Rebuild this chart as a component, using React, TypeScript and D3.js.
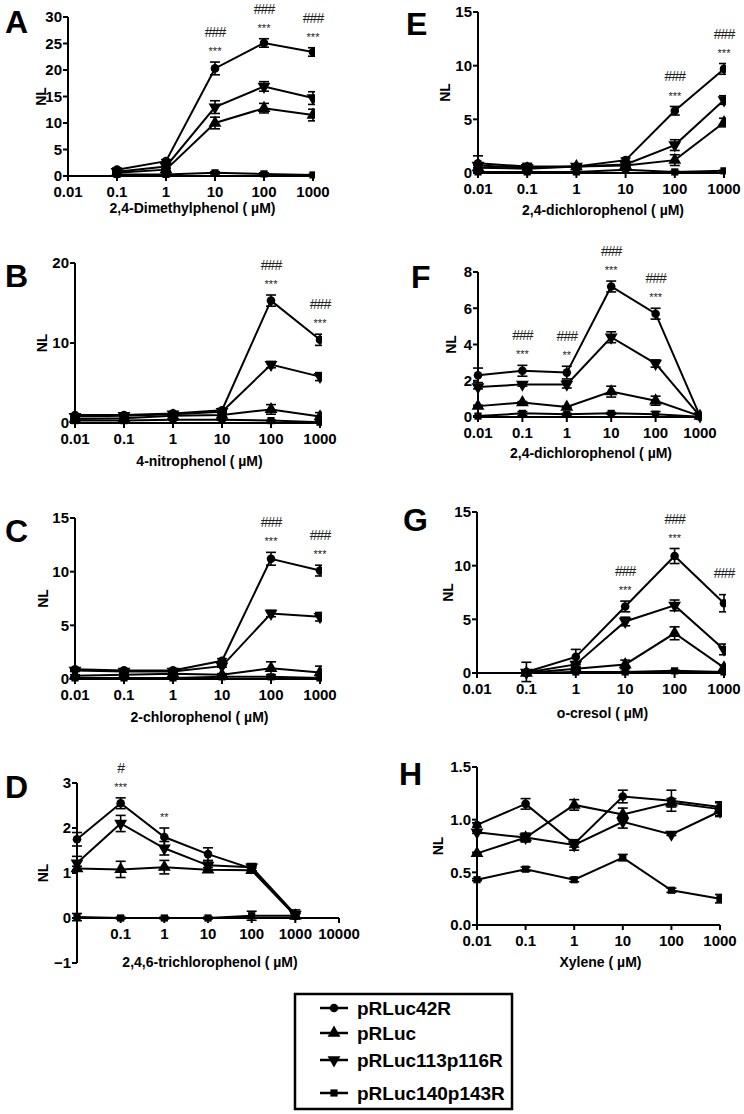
import React from "react";
import * as d3 from "d3";

// series, in legend order
const SERIES = ["pRLuc42R", "pRLuc", "pRLuc113p116R", "pRLuc140p143R"];

const CONC6 = [0.01, 0.1, 1, 10, 100, 1000];
const CONC5 = [0.1, 1, 10, 100, 1000];

// A: 2,4-Dimethylphenol
const A_MEAN = [
  [1.2, 2.8, 20.3, 25.1, 23.4],
  [0.6, 1.2, 10.0, 12.8, 11.5],
  [0.8, 1.8, 13.0, 16.9, 14.7],
  [0.3, 0.3, 0.6, 0.4, 0.2],
];
const A_ERR = [
  [0.3, 0.3, 1.2, 0.8, 0.8],
  [0.2, 0.2, 1.1, 0.9, 1.1],
  [0.2, 0.3, 1.2, 0.9, 1.2],
  [0.1, 0.1, 0.2, 0.2, 0.1],
];
const A_SIG = [[10, "###", "***"], [100, "###", "***"], [1000, "###", "***"]];

// B: 4-nitrophenol
const B_MEAN = [
  [1.0, 1.0, 1.2, 1.6, 15.3, 10.4],
  [0.5, 0.6, 0.9, 1.0, 1.7, 0.8],
  [0.8, 0.9, 1.1, 1.4, 7.3, 5.8],
  [0.3, 0.3, 0.4, 0.4, 0.3, 0.1],
];
const B_ERR = [
  [0.1, 0.1, 0.1, 0.2, 0.7, 0.7],
  [0.1, 0.1, 0.1, 0.2, 0.6, 0.5],
  [0.1, 0.1, 0.1, 0.1, 0.4, 0.5],
  [0.05, 0.05, 0.05, 0.05, 0.05, 0.05],
];
const B_SIG = [[100, "###", "***"], [1000, "###", "***"]];

// C: 2-chlorophenol
const C_MEAN = [
  [0.9, 0.8, 0.8, 1.7, 11.2, 10.1],
  [0.3, 0.4, 0.5, 0.4, 1.0, 0.6],
  [0.8, 0.7, 0.7, 1.2, 6.1, 5.8],
  [0.1, 0.1, 0.1, 0.2, 0.2, 0.1],
];
const C_ERR = [
  [0.1, 0.1, 0.1, 0.2, 0.6, 0.5],
  [0.1, 0.1, 0.1, 0.1, 0.6, 0.6],
  [0.1, 0.1, 0.1, 0.1, 0.3, 0.4],
  [0.05, 0.05, 0.05, 0.05, 0.05, 0.05],
];
const C_SIG = [[100, "###", "***"], [1000, "###", "***"]];

// D: 2,4,6-trichlorophenol
const D_MEAN = [
  [1.75, 2.55, 1.8, 1.42, 1.1, 0.05],
  [1.1, 1.08, 1.13, 1.07, 1.06, 0.05],
  [1.22, 2.1, 1.55, 1.17, 1.13, 0.08],
  [0.02, 0.0, 0.0, 0.0, 0.05, 0.05],
];
const D_ERR = [
  [0.15, 0.12, 0.2, 0.14, 0.05, 0.05],
  [0.05, 0.18, 0.15, 0.05, 0.05, 0.05],
  [0.15, 0.18, 0.15, 0.1, 0.08, 0.1],
  [0.08, 0.02, 0.02, 0.02, 0.1, 0.05],
];
const D_SIG = [[0.1, "#", "***"], [1, "", "**"]];
const D_TICKS = [0.01, 0.1, 1, 10, 100, 1000, 10000];
const D_TICK_LABELS = ["", "0.1", "1", "10", "100", "1000", "10000"];

// E: 2,4-dichlorophenol
const E_MEAN = [
  [0.9, 0.6, 0.6, 1.2, 5.8, 9.7],
  [0.5, 0.4, 0.6, 0.7, 1.2, 4.7],
  [0.7, 0.5, 0.6, 0.8, 2.6, 6.8],
  [0.1, 0.1, 0.1, 0.3, 0.1, 0.2],
];
const E_ERR = [
  [0.7, 0.3, 0.2, 0.2, 0.4, 0.5],
  [0.2, 0.2, 0.1, 0.2, 0.5, 0.4],
  [0.2, 0.2, 0.1, 0.2, 0.5, 0.4],
  [0.05, 0.05, 0.05, 0.05, 0.05, 0.05],
];
const E_SIG = [[100, "###", "***"], [1000, "###", "***"]];

// F: 2,4-dichlorophenol
const F_MEAN = [
  [2.3, 2.55, 2.45, 7.2, 5.7, 0.05],
  [0.6, 0.8, 0.55, 1.4, 0.9, 0.05],
  [1.65, 1.8, 1.8, 4.4, 2.95, 0.05],
  [0.05, 0.2, 0.15, 0.2, 0.15, 0.02],
];
const F_ERR = [
  [0.4, 0.3, 0.35, 0.3, 0.3, 0.02],
  [0.05, 0.05, 0.05, 0.3, 0.25, 0.02],
  [0.1, 0.1, 0.2, 0.3, 0.2, 0.02],
  [0.02, 0.1, 0.05, 0.05, 0.15, 0.02],
];
const F_SIG = [[0.1, "###", "***"], [1, "###", "**"], [10, "###", "***"], [100, "###", "***"]];

// G: o-cresol
const G_MEAN = [
  [0.1, 1.5, 6.2, 10.9, 6.5],
  [0.0, 0.4, 0.8, 3.7, 0.5],
  [0.05, 0.8, 4.8, 6.3, 2.2],
  [0.0, 0.1, 0.1, 0.2, 0.1],
];
const G_ERR = [
  [0.9, 0.7, 0.5, 0.7, 0.8],
  [0.1, 0.1, 0.4, 0.6, 0.2],
  [0.1, 0.2, 0.4, 0.5, 0.5],
  [0.05, 0.05, 0.05, 0.05, 0.05],
];
const G_SIG = [[10, "###", "***"], [100, "###", "***"], [1000, "###", ""]];

// H: Xylene
const H_MEAN = [
  [0.95, 1.15, 0.77, 1.22, 1.18, 1.12],
  [0.68, 0.83, 1.14, 1.05, 1.16, 1.1],
  [0.88, 0.83, 0.76, 0.98, 0.86, 1.08],
  [0.43, 0.53, 0.43, 0.64, 0.33, 0.25],
];
const H_ERR = [
  [0.02, 0.05, 0.03, 0.06, 0.1, 0.04],
  [0.01, 0.04, 0.05, 0.06, 0.04, 0.07],
  [0.01, 0.04, 0.05, 0.06, 0.01, 0.04],
  [0.01, 0.02, 0.02, 0.03, 0.02, 0.04],
];

const DEC6 = [0.01, 0.1, 1, 10, 100, 1000];
const DEC_LABELS = ["0.01", "0.1", "1", "10", "100", "1000"];

const NARROW = "'Liberation Sans Narrow', 'Arial Narrow', 'Liberation Sans', Arial, sans-serif";
const SANS = "'Liberation Sans', Arial, Helvetica, sans-serif";

const panels = [
  { id: "A", xs: CONC5, mean: A_MEAN, err: A_ERR, sig: A_SIG, title: "2,4-Dimethylphenol",
    xr: [68, 313], xd: [0.01, 1000], yr: [176, 17], yd: [0, 30], yt: [0, 5, 10, 15, 20, 25, 30], yfmt: "d",
    ticks: DEC6, tickLabels: DEC_LABELS, titleY: 213, letter: [5, 33], nlX: 46 },
  { id: "B", xs: CONC6, mean: B_MEAN, err: B_ERR, sig: B_SIG, title: "4-nitrophenol",
    xr: [75, 320], xd: [0.01, 1000], yr: [423, 263], yd: [0, 20], yt: [0, 10, 20], yfmt: "d",
    ticks: DEC6, tickLabels: DEC_LABELS, titleY: 466, letter: [5, 287], nlX: 47 },
  { id: "C", xs: CONC6, mean: C_MEAN, err: C_ERR, sig: C_SIG, title: "2-chlorophenol",
    xr: [75, 320], xd: [0.01, 1000], yr: [679, 518], yd: [0, 15], yt: [0, 5, 10, 15], yfmt: "d",
    ticks: DEC6, tickLabels: DEC_LABELS, titleY: 722, letter: [5, 542], nlX: 48 },
  { id: "D", xs: CONC6, mean: D_MEAN, err: D_ERR, sig: D_SIG, title: "2,4,6-trichlorophenol",
    xr: [77, 339], xd: [0.01, 10000], yr: [963, 783], yd: [-1, 3], yt: [-1, 0, 1, 2, 3], yfmt: "d",
    ticks: D_TICKS, tickLabels: D_TICK_LABELS, titleY: 967, letter: [5, 798], nlX: 48 },
  { id: "E", xs: CONC6, mean: E_MEAN, err: E_ERR, sig: E_SIG, title: "2,4-dichlorophenol",
    xr: [478, 724], xd: [0.01, 1000], yr: [173, 12], yd: [0, 15], yt: [0, 5, 10, 15], yfmt: "d",
    ticks: DEC6, tickLabels: DEC_LABELS, titleY: 215, letter: [406, 35], nlX: 450 },
  { id: "F", xs: CONC6, mean: F_MEAN, err: F_ERR, sig: F_SIG, title: "2,4-dichlorophenol",
    xr: [478, 700], xd: [0.01, 1000], yr: [417, 272], yd: [0, 8], yt: [0, 2, 4, 6, 8], yfmt: "d",
    ticks: DEC6, tickLabels: DEC_LABELS, titleY: 458, letter: [411, 288], nlX: 456 },
  { id: "G", xs: CONC5, mean: G_MEAN, err: G_ERR, sig: G_SIG, title: "o-cresol",
    xr: [477, 724], xd: [0.01, 1000], yr: [673, 512], yd: [0, 15], yt: [0, 5, 10, 15], yfmt: "d",
    ticks: DEC6, tickLabels: DEC_LABELS, titleY: 718, letter: [403, 531], nlX: 453 },
  { id: "H", xs: CONC6, mean: H_MEAN, err: H_ERR, sig: [], title: "Xylene",
    xr: [477, 720], xd: [0.01, 1000], yr: [925, 767], yd: [0, 1.5], yt: [0, 0.5, 1, 1.5], yfmt: ".1f",
    ticks: DEC6, tickLabels: DEC_LABELS, titleY: 967, letter: [399, 785], nlX: 443 },
];

const symbolPath = (i: number) => {
  if (i === 0) return d3.symbol().type(d3.symbolCircle).size(58)()!;
  if (i === 3) return d3.symbol().type(d3.symbolSquare).size(52)()!;
  return d3.symbol().type(d3.symbolTriangle).size(72)()!;
};

function Marker({ i, x, y }: { i: number; x: number; y: number }) {
  const rot = i === 2 ? " rotate(180)" : "";
  return <path d={symbolPath(i)} transform={`translate(${x},${y})${rot}`} fill="#000" />;
}

function Panel({ p }: { p: any }) {
  const x = d3.scaleLog().domain(p.xd).range(p.xr);
  const y = d3.scaleLinear().domain(p.yd).range(p.yr);
  const y0 = y(0);
  const fmt = d3.format(p.yfmt);
  const line = d3.line<number>().x((_, j) => x(p.xs[j])).y((v) => y(v));
  const clipId = "clip" + p.id;
  const midX = (p.xr[0] + p.xr[1]) / 2;
  const midY = (p.yr[0] + p.yr[1]) / 2;

  return (
    <g>
      <defs>
        <clipPath id={clipId}>
          <rect x={p.xr[0] - 30} y={0} width={p.xr[1] - p.xr[0] + 32} height={1114} />
        </clipPath>
      </defs>
      {/* panel letter */}
      <text x={p.letter[0]} y={p.letter[1]} fontFamily={SANS} fontWeight="bold" fontSize={32}>
        {p.id}
      </text>
      {/* y axis */}
      <line x1={p.xr[0]} x2={p.xr[0]} y1={p.yr[0]} y2={p.yr[1]} stroke="#000" strokeWidth={2} />
      {p.yt.map((t: number) => (
        <g key={"y" + t}>
          <line x1={p.xr[0] - 5} x2={p.xr[0]} y1={y(t)} y2={y(t)} stroke="#000" strokeWidth={2} />
          <text x={p.xr[0] - 6} y={y(t)} dy="0.36em" textAnchor="end" fontFamily={NARROW}
            fontWeight="bold" fontSize={15}>{fmt(t)}</text>
        </g>
      ))}
      <text transform={`translate(${p.nlX},${midY}) rotate(-90)`} textAnchor="middle"
        fontFamily={NARROW} fontWeight="bold" fontSize={14}>NL</text>
      {/* x axis */}
      <line x1={p.xr[0]} x2={p.xr[1]} y1={y0} y2={y0} stroke="#000" strokeWidth={2} />
      {p.ticks.map((t: number, k: number) => (
        <g key={"x" + t}>
          <line x1={x(t)} x2={x(t)} y1={y0} y2={y0 + 5} stroke="#000" strokeWidth={2} />
          <text x={x(t)} y={y0 + 21} textAnchor="middle" fontFamily={NARROW} fontWeight="bold"
            fontSize={15}>{p.tickLabels[k]}</text>
        </g>
      ))}
      <text x={midX + 2} y={p.titleY} textAnchor="middle" fontFamily={NARROW} fontWeight="bold" fontSize={14}>
        {p.title + " ( \u00b5M)"}
      </text>
      {/* data */}
      <g clipPath={`url(#${clipId})`}>
        {p.mean.map((row: number[], i: number) => (
          <g key={"s" + i}>
            <path d={line(row)!} fill="none" stroke="#000" strokeWidth={2} />
            {row.map((v, j) => {
              const cx = x(p.xs[j]);
              const e = p.err[i][j];
              return (
                <g key={j} stroke="#000" strokeWidth={1.6}>
                  <line x1={cx} x2={cx} y1={y(v - e)} y2={y(v + e)} />
                  <line x1={cx - 5} x2={cx + 5} y1={y(v + e)} y2={y(v + e)} />
                  <line x1={cx - 5} x2={cx + 5} y1={y(v - e)} y2={y(v - e)} />
                </g>
              );
            })}
            {row.map((v, j) => (
              <Marker key={"m" + j} i={i} x={x(p.xs[j])} y={y(v)} />
            ))}
          </g>
        ))}
      </g>
      {/* significance marks above the pRLuc42R series */}
      {p.sig.map((s: any[]) => {
        const j = p.xs.indexOf(s[0]);
        const top = y(p.mean[0][j] + p.err[0][j]);
        const cx = x(s[0]);
        return (
          <g key={"sig" + s[0]}>
            {s[2] && (
              <text x={cx} y={top - 13} dy="0.55em" textAnchor="middle" fontFamily={SANS}
                fontSize={11} fill="#222">{s[2]}</text>
            )}
            {s[1] && (
              <text x={cx} y={top - (s[2] ? 30 : 22)} dy="0.36em" textAnchor="middle" fontFamily={SANS}
                fontSize={14} fill="#222" letterSpacing={-1}>{s[1]}</text>
            )}
          </g>
        );
      })}
    </g>
  );
}

const LEGEND_BOX = [295, 994, 217, 115];
const LEGEND_ROWS = [1008, 1033, 1060, 1093];

export default function App() {
  return (
    <svg width={744} height={1114} style={{ position: "absolute", left: 0, top: 0, background: "#fff" }}>
      <rect width={744} height={1114} fill="#fff" />
      {panels.map((p) => (
        <Panel key={p.id} p={p} />
      ))}
      <rect x={LEGEND_BOX[0]} y={LEGEND_BOX[1]} width={LEGEND_BOX[2]} height={LEGEND_BOX[3]}
        fill="none" stroke="#000" strokeWidth={2.5} />
      {SERIES.map((name, i) => (
        <g key={name}>
          <line x1={320} x2={348} y1={LEGEND_ROWS[i]} y2={LEGEND_ROWS[i]} stroke="#000" strokeWidth={2.5} />
          <Marker i={i} x={334} y={LEGEND_ROWS[i]} />
          <text x={357} y={LEGEND_ROWS[i]} dy="0.36em" fontFamily={SANS} fontWeight="bold" fontSize={19}>
            {name}
          </text>
        </g>
      ))}
    </svg>
  );
}
